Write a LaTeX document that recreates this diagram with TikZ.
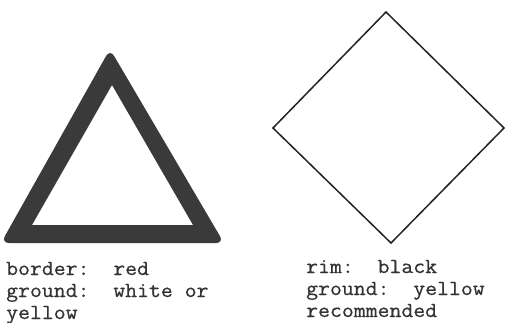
\documentclass[tikz,border=0pt]{standalone}
\usepackage{fontspec}
\setmonofont[FakeStretch=1.08,FakeBold=0.6]{Latin Modern Mono}
\definecolor{signgray}{HTML}{3A3A3A}
\definecolor{rimgray}{HTML}{222222}
\tikzset{
  label text/.style={font=\ttfamily\fontsize{21.4pt}{22pt}\selectfont, inner sep=0pt, anchor=base west, text=black!80},
}
\begin{document}
\begin{tikzpicture}[x=1pt,y=-1pt]
\useasboundingbox (0,0) rectangle (505,323);
% triangle sign: thick dark border
\fill[signgray, even odd rule]
  [rounded corners=8pt] (110,49) -- (224,243) -- (1,243) -- cycle
  [sharp corners] (112,85) -- (193,225) -- (32,225) -- cycle;
% diamond sign: thin rim
\draw[rimgray, line width=1.5pt, line join=miter] (386,12) -- (504,128) -- (391,243) -- (273,128) -- cycle;
% labels, left
\node[label text] (l1) at (6,275) {border:~~red};
\node[label text] (l2) at (6,297) {ground:~~white or};
\node[label text] (l3) at (6,319) {yellow};
% labels, right
\node[label text] (r1) at (306,273) {rim:~~black};
\node[label text] (r2) at (306,295) {ground:~~yellow};
\node[label text] (r3) at (306,317) {recommended};
\end{tikzpicture}
\end{document}
